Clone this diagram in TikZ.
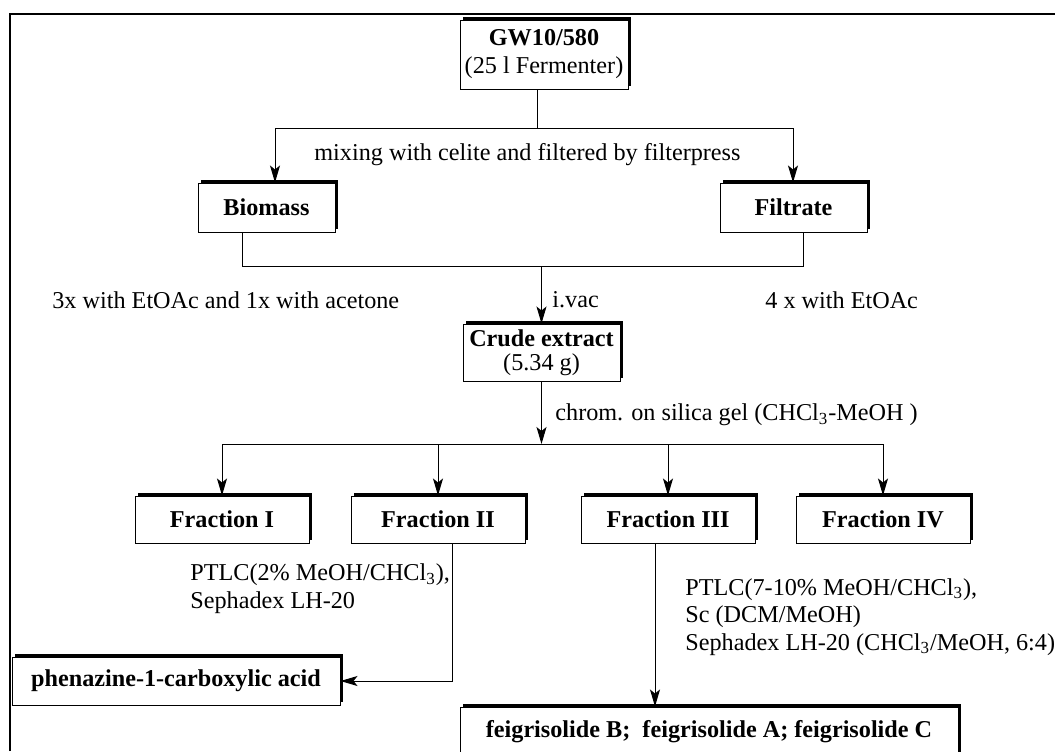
\documentclass[tikz,border=0pt]{standalone}
\usepackage{fontspec}
\setmainfont{Liberation Serif}
\usetikzlibrary{arrows.meta, positioning, shadows}

\begin{document}
\begin{tikzpicture}[x=0.5pt, y=-0.5pt,
  every node/.style={font=\fontsize{12.1}{13.75}\selectfont},
  stepbox/.style={draw, fill=white, line width=0.5pt, inner sep=0pt, align=center,
    font=\fontsize{12.1}{14}\selectfont\bfseries,
    general shadow={fill=black, shadow xshift=1.4pt, shadow yshift=1.4pt}},
  note/.style={inner sep=0pt, anchor=west, align=left},
  flow/.style={line width=0.5pt, -{Stealth[length=8.5pt, width=5pt, inset=2pt]}},
  wire/.style={line width=0.5pt}]
\useasboundingbox (0,0) rectangle (1055,751);
% frame
\draw[line width=1pt] (10,751) -- (10,14) -- (1055,14);

% Boxes
\node[stepbox, font=\fontsize{12.1}{14}\selectfont, minimum width=84pt, minimum height=34.5pt] (gw) at (544,54.5) {\textbf{GW10/580}\\(25 l Fermenter)};
\node[stepbox, minimum width=68.5pt, minimum height=24.5pt] (biomass) at (266.5,207.5) {Biomass};
\node[stepbox, minimum width=73.5pt, minimum height=24.5pt] (filtrate) at (793.5,207.5) {Filtrate};
\node[stepbox, font=\fontsize{12.1}{12}\selectfont, minimum width=78.5pt, minimum height=28.5pt] (crude) at (541.5,352.5) {\textbf{Crude extract}\\(5.34 g)};
\foreach \n/\x/\lab in {fracI/222/Fraction I, fracII/438/Fraction II, fracIII/668/Fraction III, fracIV/883/Fraction IV}
  \node[stepbox, minimum width=87pt, minimum height=23.5pt] (\n) at (\x,519.5) {\lab};
\node[stepbox, minimum width=164pt, minimum height=24pt] (phen) at (176,681) {phenazine-1-carboxylic acid};
\node[stepbox, minimum width=249pt, minimum height=25pt] (feig) at (709,732) {feigrisolide B;\ \ feigrisolide A; feigrisolide C};

% Labels
\node[note] (mixlab) at (314,155) {mixing with celite and filtered by filterpress};
\node[note] (ext1) at (52,300) {3x with EtOAc and 1x with acetone};
\node[note] (vac) at (552,300) {i.vac};
\node[note] (ext2) at (765,300) {4 x with EtOAc};
\node[note] (chrom) at (555,415) {chrom. on silica gel (CHCl\textsubscript{3}-MeOH )};
\node[note] (sepII) at (190,588.5) {PTLC(2\% MeOH/CHCl\textsubscript{3}),\\Sephadex LH-20};
\node[note] (sepIII) at (685,617) {PTLC(7-10\% MeOH/CHCl\textsubscript{3}),\\Sc (DCM/MeOH)\\Sephadex LH-20 (CHCl\textsubscript{3}/MeOH, 6:4)};

% Split after filterpress
\coordinate (gwstem) at (537,128);
\coordinate (mixL) at (275,128);
\coordinate (mixR) at (793,128);
\draw[wire] (gw.south -| gwstem) -- (gwstem);
\draw[wire] (mixL) -- (mixR);
\draw[flow] (mixL) -- (mixL |- biomass.north);
\draw[flow] (mixR) -- (mixR |- filtrate.north);

% Join of both extracts
\coordinate (joinL) at (242,266);
\coordinate (joinR) at (803,266);
\draw[wire] (biomass.south -| joinL) -- (joinL) -- (joinR) -- (filtrate.south -| joinR);
\draw[flow] (crude.north |- joinL) -- (crude.north);

% Column chromatography
\coordinate (fracbar) at (0,444);
\draw[flow] (crude.south) -- (crude.south |- fracbar);
\draw[wire] (fracI.north |- fracbar) -- (fracIV.north |- fracbar);
\foreach \n in {fracI, fracII, fracIII, fracIV}
  \draw[flow] (\n.north |- fracbar) -- (\n.north);

% Purification
\coordinate (turnII) at (452,681);
\coordinate (stemIII) at (655,0);
\draw[flow] (fracII.south -| turnII) -- (turnII) -- (phen.east);
\draw[flow] (fracIII.south -| stemIII) -- (feig.north -| stemIII);
\end{tikzpicture}
\end{document}
